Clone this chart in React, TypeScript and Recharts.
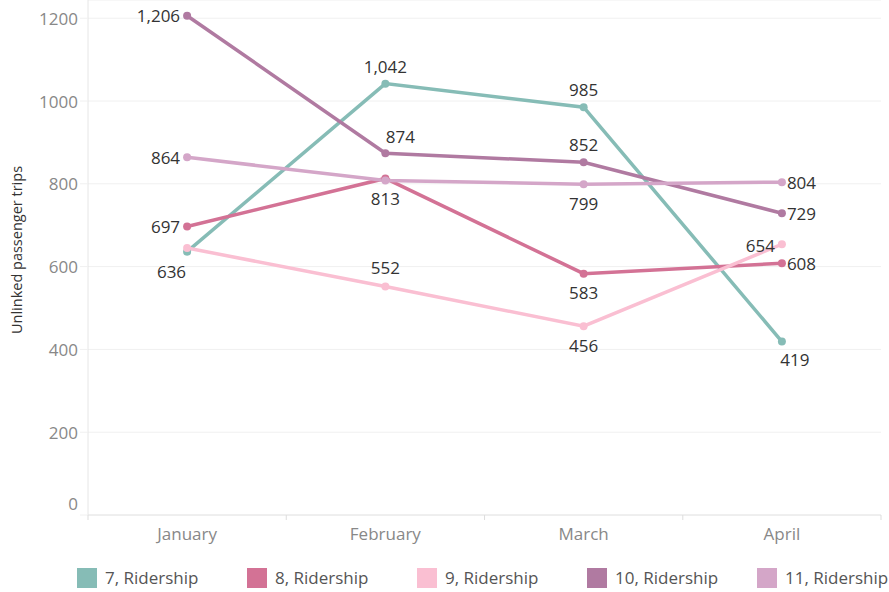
import React from "react";
import { LineChart, Line, XAxis, YAxis, CartesianGrid, LabelList } from "recharts";

const months = ["January", "February", "March", "April"];
const route7 = [636, 1042, 985, 419];
const route8 = [697, 813, 583, 608];
const route9 = [645, 552, 456, 654];
const route10 = [1206, 874, 852, 729];
const route11 = [864, 808, 799, 804];
const yTicks = [0, 200, 400, 600, 800, 1000, 1200];

const data = months.map((m, i) => ({
  month: m,
  r7: route7[i],
  r8: route8[i],
  r9: route9[i],
  r10: route10[i],
  r11: route11[i],
}));

// label placement per point: [dx, dy, anchor], null = hidden (Tableau overlap rule)
type Place = [number, number, string] | null;
const series: { key: string; name: string; color: string; places: Place[] }[] = [
  {
    key: "r7",
    name: "7, Ridership",
    color: "#86bcb6",
    places: [[-1, 20, "end"], [0, -17, "middle"], [0, -18, "middle"], [13, 18, "middle"]],
  },
  {
    key: "r8",
    name: "8, Ridership",
    color: "#d37295",
    places: [[-7, 0, "end"], [0, 20, "middle"], [0, 19, "middle"], [5, 0, "start"]],
  },
  {
    key: "r9",
    name: "9, Ridership",
    color: "#fabfd2",
    places: [null, [0, -19, "middle"], [0, 19, "middle"], [-7, 1, "end"]],
  },
  {
    key: "r10",
    name: "10, Ridership",
    color: "#b07aa1",
    places: [[-7, 0, "end"], [15, -17, "middle"], [0, -18, "middle"], [5, 0, "start"]],
  },
  {
    key: "r11",
    name: "11, Ridership",
    color: "#d4a6c8",
    places: [[-7, 0, "end"], null, [0, 19, "middle"], [5, 0, "start"]],
  },
];

const FONT = "'Open Sans', sans-serif";
const AXIS_Y = 515;
const HALF_BAND = 99.1;

const makeLabel = (places: Place[]) => (props: any) => {
  const { x, y, value, index } = props;
  const p = places[index];
  if (!p) return null;
  return (
    <text
      x={x + p[0]}
      y={y + p[1]}
      textAnchor={p[2] as any}
      dominantBaseline="central"
      fontSize={17}
      fontFamily={FONT}
      fill="#333"
    >
      {Number(value).toLocaleString("en-US")}
    </text>
  );
};

const XTick = (props: any) => {
  const { x, payload, index } = props;
  return (
    <g>
      <line x1={x - HALF_BAND} x2={x - HALF_BAND} y1={AXIS_Y} y2={AXIS_Y + 5} stroke="#ddd" />
      {index === months.length - 1 && (
        <line x1={x + HALF_BAND} x2={x + HALF_BAND} y1={AXIS_Y} y2={AXIS_Y + 5} stroke="#ddd" />
      )}
      <text x={x} y={AXIS_Y + 18} textAnchor="middle" dominantBaseline="central" fontSize={17} fontFamily={FONT} fill="#888">
        {payload.value}
      </text>
    </g>
  );
};

const YTick = (props: any) => {
  const { x, y, payload } = props;
  const shift = payload.value === 0 ? -12 : 0;
  return (
    <text x={x} y={y + shift} textAnchor="end" dominantBaseline="central" fontSize={17} fontFamily={FONT} fill="#888">
      {payload.value}
    </text>
  );
};

const App = () => {
  return (
    <div style={{ position: "absolute", left: 0, top: 0, width: 889, height: 592, background: "#fff", fontFamily: FONT }}>
      <LineChart width={889} height={550} data={data} margin={{ top: 0, right: 8, left: 0, bottom: 0 }}>
        <CartesianGrid vertical={false} stroke="#f0f0f0" />
        <XAxis
          dataKey="month"
          height={35}
          padding={{ left: HALF_BAND, right: HALF_BAND }}
          axisLine={{ stroke: "#e6e6e6" }}
          tickLine={false}
          tick={<XTick />}
          interval={0}
        />
        <YAxis
          width={88}
          domain={[0, 1244]}
          ticks={yTicks}
          axisLine={{ stroke: "#e6e6e6" }}
          tickLine={{ stroke: "#f0f0f0" }}
          tickSize={8}
          tick={<YTick />}
        />
        {series.map((s) => (
          <Line
            key={s.key}
            dataKey={s.key}
            name={s.name}
            stroke={s.color}
            strokeWidth={3.5}
            dot={{ r: 4, fill: s.color, stroke: s.color, strokeWidth: 0 }}
            activeDot={false}
            isAnimationActive={false}
          >
            <LabelList dataKey={s.key} content={makeLabel(s.places)} />
          </Line>
        ))}
        <text
          x={16}
          y={250}
          transform="rotate(-90 16 250)"
          textAnchor="middle"
          dominantBaseline="central"
          fontSize={14.5}
          fontFamily={FONT}
          fill="#333"
        >
          Unlinked passenger trips
        </text>
      </LineChart>
      {series.map((s, i) => (
        <div
          key={s.key}
          style={{ position: "absolute", left: 77 + i * 170, top: 566, display: "flex", alignItems: "center", whiteSpace: "nowrap" }}
        >
          <span style={{ display: "inline-block", width: 20, height: 20, background: s.color, marginRight: 8 }} />
          <span style={{ fontSize: 17, color: "#555" }}>{s.name}</span>
        </div>
      ))}
    </div>
  );
};

export default App;
